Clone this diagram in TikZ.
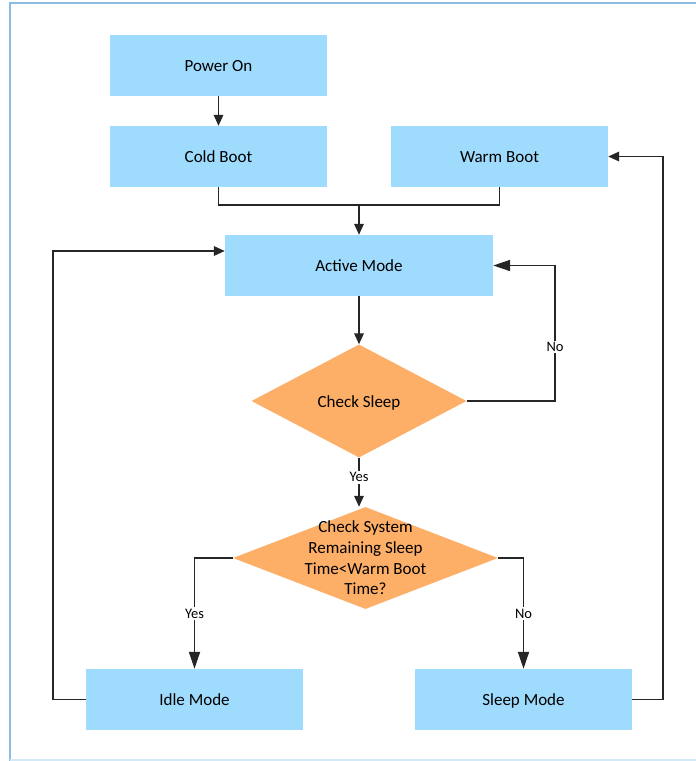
\documentclass[tikz,border=0pt]{standalone}
\usepackage{fontspec}
\setmainfont{Carlito}
\usepackage{tikz}
\usetikzlibrary{arrows.meta, shapes.geometric, positioning, calc}

\definecolor{boxblue}{HTML}{9FDBFD}
\definecolor{decorange}{HTML}{FDAE67}
\definecolor{framblue}{HTML}{8DBCE3}
\definecolor{framlight}{HTML}{D2EAF7}

\begin{document}
\begin{tikzpicture}[x=1pt, y=-1pt,
    block/.style={rectangle, fill=boxblue, minimum width=217, minimum height=61, inner sep=0pt,
        text height=14pt, text depth=2pt, font=\fontsize{17}{20.7}\selectfont},
    decision/.style={diamond, fill=decorange, inner sep=0pt},
    dtext/.style={align=center, font=\fontsize{17}{20.7}\selectfont},
    lbl/.style={fill=white, inner sep=1.5pt, font=\fontsize{14.5}{17}\selectfont},
    line/.style={draw=black!85, line width=1.8pt},
    arr/.style={line, -{Triangle[length=11pt, width=9.5pt]}},
    arrbig/.style={line, -{Triangle[length=17pt, width=11pt]}}]
    % Fix the page size
    \useasboundingbox (0,0) rectangle (696,761);
    \fill[white] (0,0) rectangle (696,761);
    % Draw the frame
    \draw[framblue, line width=2pt] (10,761) -- (10,3) -- (696,3);
    \draw[framlight, line width=2pt] (10,760) -- (696,760);

    % Draw the boxes
    \node[block] (pwr) at (218.5,65.5) {Power On};
    \node[block] (cold) at (218.5,156.5) {Cold Boot};
    \node[block] (warm) at (499.5,156.5) {Warm Boot};
    \node[block, minimum width=268] (active) at (359,265.5) {Active Mode};
    \node[block] (idle) at (194.5,699.5) {Idle Mode};
    \node[block] (sleep) at (523.5,699.5) {Sleep Mode};

    % Draw the decisions
    \node[decision, minimum width=215, minimum height=113] (chk) at (359,401) {};
    \node[dtext, text height=14pt, text depth=2pt] (chktxt) at (chk) {Check Sleep};
    \node[decision, minimum width=265, minimum height=102] (chkrem) at (365.5,558) {};
    \node[dtext] (chkremtxt) at (chkrem) {Check System\\Remaining Sleep\\Time<Warm Boot\\Time?};

    % Helper points
    \coordinate (join) at (359,205);
    \coordinate (nobend) at (555,401);
    \coordinate (lp) at (53,251);
    \coordinate (rp) at (663,156.5);

    % Draw the connectors
    \draw[arr] (pwr) -- (cold);
    \draw[line] (cold.south) |- (join) -| (warm.south);
    \draw[arr] (join) -- (active);
    \draw[arr] (active) -- (chk);
    \draw[arrbig] (chk.east) -- (nobend) |- node[lbl, pos=0.2] {No} (active.east);
    \draw[arr] (chk.south) -- node[lbl, pos=0.4] {Yes} (chk.south |- chkrem.north);
    \draw[arrbig] (chkrem.west) -| node[lbl, pos=0.75] {Yes} (idle.north);
    \draw[arrbig] (chkrem.east) -| node[lbl, pos=0.75] {No} (sleep.north);
    \draw[arr] (idle.west) -| (lp) -- (lp -| active.west);
    \draw[arr] (sleep.east) -| (rp) -- (warm.east);
\end{tikzpicture}
\end{document}
